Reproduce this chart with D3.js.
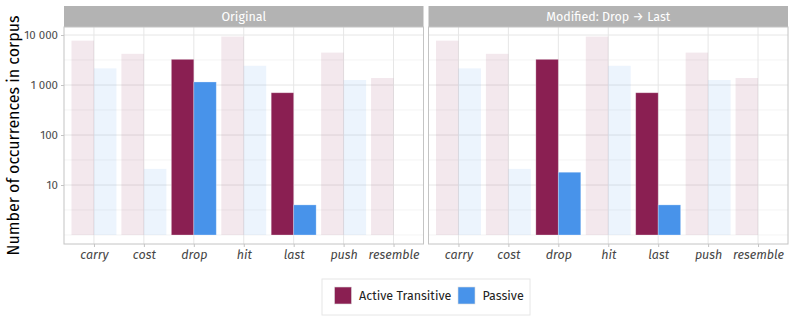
<!DOCTYPE html>
<html>
<head>
<meta charset="utf-8">
<script src="https://cdn.jsdelivr.net/npm/d3@7"></script>
<style>
  body { margin: 0; background: #fff; }
  svg { font-family: "Fira Sans", "Noto Sans", sans-serif; }
</style>
</head>
<body>
<svg id="chart" width="793" height="317"></svg>
<script>
// data
var verbs = ['carry', 'cost', 'drop', 'hit', 'last', 'push', 'resemble'];
var series = ['Active Transitive', 'Passive'];
var panels = ['Original', 'Modified: Drop \u2192 Last'];
var highlighted = ['drop', 'last'];

var activeOriginal = [7700, 4200, 3260, 9300, 700, 4450, 1380];
var passiveOriginal = [2150, 21, 1150, 2420, 4, 1260, 0];
var activeModified = [7700, 4200, 3260, 9300, 700, 4450, 1380];
var passiveModified = [2150, 21, 18, 2420, 4, 1260, 0];

var yTicks = [10, 100, 1000, 10000];
var yMinor = [1, Math.sqrt(10), Math.sqrt(1000), Math.sqrt(100000), Math.sqrt(1e7)];

var colors = {'Active Transitive': '#8a1f52', 'Passive': '#4893ea'};

var panelData = [
    {name: panels[0], values: [activeOriginal, passiveOriginal]},
    {name: panels[1], values: [activeModified, passiveModified]}
];

var svg = d3.select('#chart'),
    plotTop = 27, plotBottom = 244,
    panelX = [64, 428.5], panelW = 359.5;

var y = d3.scaleLog()
    .domain([Math.pow(10, -0.18), Math.pow(10, 4.16)])
    .range([plotBottom, plotTop]);

var fmt = function(d) {
    return d3.format(',')(d).replace(/,/g, ' ');
};

var isHi = function(v) { return highlighted.indexOf(v) >= 0; };

panelData.forEach(function(p, pi) {
    var x0 = panelX[pi];
    var x = d3.scalePoint()
        .domain(verbs)
        .range([x0, x0 + panelW])
        .padding(0.6);
    var step = x.step();
    var xs = d3.scaleBand().domain(series).range([-step * 0.45, step * 0.45]);

    var g = svg.append('g');

    // strip
    g.append('rect')
        .attr('x', x0).attr('y', 6)
        .attr('width', panelW).attr('height', plotTop - 6)
        .attr('fill', '#b3b3b3');
    g.append('text')
        .attr('x', x0 + panelW / 2).attr('y', 21)
        .attr('text-anchor', 'middle')
        .attr('fill', '#fff')
        .attr('font-size', 12.5)
        .text(p.name);

    // grid
    g.selectAll('.minor').data(yMinor).enter().append('line')
        .attr('x1', x0).attr('x2', x0 + panelW)
        .attr('y1', function(d) { return y(d); })
        .attr('y2', function(d) { return y(d); })
        .attr('stroke', '#efefef').attr('stroke-width', 0.7);
    g.selectAll('.major').data(yTicks).enter().append('line')
        .attr('x1', x0).attr('x2', x0 + panelW)
        .attr('y1', function(d) { return y(d); })
        .attr('y2', function(d) { return y(d); })
        .attr('stroke', '#e6e6e6').attr('stroke-width', 1);
    g.selectAll('.vgrid').data(verbs).enter().append('line')
        .attr('x1', function(d) { return x(d); })
        .attr('x2', function(d) { return x(d); })
        .attr('y1', plotTop).attr('y2', plotBottom)
        .attr('stroke', '#e6e6e6').attr('stroke-width', 1);

    // bars
    series.forEach(function(s, si) {
        g.selectAll('.bar' + si)
            .data(verbs.map(function(v, i) { return {verb: v, value: p.values[si][i]}; })
                .filter(function(d) { return d.value > 0; }))
            .enter().append('rect')
            .attr('x', function(d) { return x(d.verb) + xs(s); })
            .attr('width', xs.bandwidth())
            .attr('y', function(d) { return y(d.value); })
            .attr('height', function(d) { return y(1) - y(d.value); })
            .attr('fill', colors[s])
            .attr('fill-opacity', function(d) { return isHi(d.verb) ? 1 : 0.1; })
            .attr('stroke', function(d) { return isHi(d.verb) ? '#ffffff' : 'none'; })
            .attr('stroke-opacity', 0.35)
            .attr('stroke-width', 0.8);
    });

    // panel border
    g.append('rect')
        .attr('x', x0).attr('y', plotTop)
        .attr('width', panelW).attr('height', plotBottom - plotTop)
        .attr('fill', 'none')
        .attr('stroke', '#c4c4c4').attr('stroke-width', 1);

    // x axis
    var xAxis = g.append('g')
        .attr('transform', 'translate(0,' + plotBottom + ')')
        .call(d3.axisBottom(x).tickSize(3).tickPadding(3));
    xAxis.select('.domain').remove();
    xAxis.selectAll('line').attr('stroke', '#c4c4c4');
    xAxis.selectAll('text')
        .attr('font-family', '"Fira Sans", "Noto Sans", sans-serif')
        .attr('font-size', 12.5)
        .attr('font-style', 'italic')
        .attr('fill', '#444');

    if (pi === 0) {
        var yAxis = g.append('g')
            .attr('transform', 'translate(' + x0 + ',0)')
            .call(d3.axisLeft(y).tickValues(yTicks).tickFormat(fmt).tickSize(3).tickPadding(3));
        yAxis.select('.domain').remove();
        yAxis.selectAll('line').attr('stroke', '#c4c4c4');
        yAxis.selectAll('text')
            .attr('font-family', '"Fira Sans", "Noto Sans", sans-serif')
            .attr('font-size', 11.5)
            .attr('fill', '#4d4d4d');
    }
});

// y title
svg.append('text')
    .attr('transform', 'translate(19,' + ((plotTop + plotBottom) / 2) + ') rotate(-90)')
    .attr('text-anchor', 'middle')
    .attr('font-size', 16)
    .attr('fill', '#000')
    .text('Number of occurrences in corpus');

// legend
var legend = svg.append('g');
legend.append('rect')
    .attr('x', 322).attr('y', 279)
    .attr('width', 208).attr('height', 36)
    .attr('fill', '#fff')
    .attr('stroke', '#e6e6e6');
var legendX = [334.5, 458];
series.forEach(function(s, i) {
    legend.append('rect')
        .attr('x', legendX[i]).attr('y', 287)
        .attr('width', 17).attr('height', 17)
        .attr('fill', colors[s])
        .attr('stroke', '#dddddd').attr('stroke-width', 0.6);
    legend.append('text')
        .attr('x', legendX[i] + 24.5).attr('y', 300)
        .attr('font-size', 12.5)
        .attr('fill', '#222')
        .text(s);
});
</script>
</body>
</html>
